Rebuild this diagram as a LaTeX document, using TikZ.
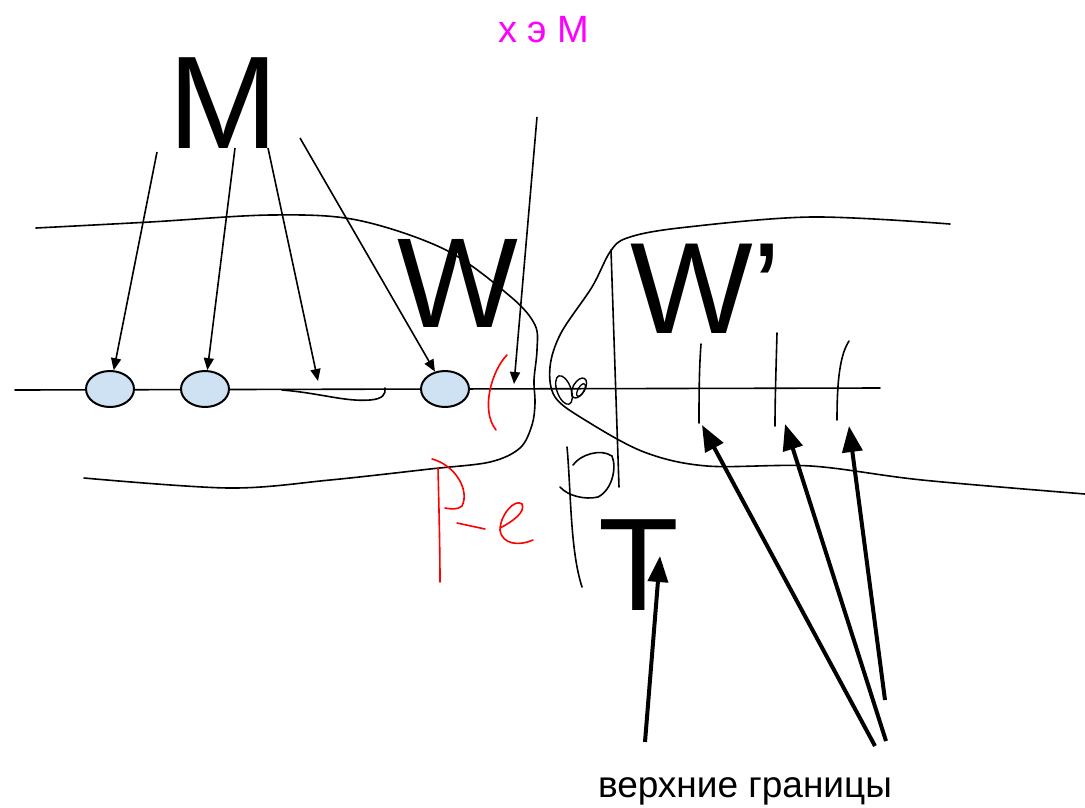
\documentclass[tikz,border=0pt]{standalone}
\usepackage{fontspec}
\setmainfont{Liberation Sans}
\usetikzlibrary{arrows.meta,shapes.geometric}
\definecolor{ellfill}{HTML}{CFE2F3}
\definecolor{mag}{HTML}{FF00FF}
\tikzset{
  thin/.style={line width=1.6pt, line cap=round},
  thinarr/.style={line width=1.6pt, -{Triangle[length=12pt,width=10pt]}},
  thickarr/.style={line width=4pt, -{Triangle[length=26pt,width=20pt]}},
  redstroke/.style={red, line width=1.6pt, line cap=round},
  pt/.style={ellipse, draw, line width=2pt, fill=ellfill, minimum width=48pt, minimum height=36pt, inner sep=0pt},
  big/.style={inner sep=0pt, font=\fontsize{132}{132}\selectfont}
}
\begin{document}
\begin{tikzpicture}[x=1pt,y=-1pt]
\useasboundingbox (0,0) rectangle (1085,807);
% labels
\node[inner sep=0pt, anchor=base, text=mag, font=\fontsize{38}{38}\selectfont] (xem) at (544,42) {x э M};
\node[big, anchor=base] (M) at (223,148) {M};
\node[big, anchor=base, font=\fontsize{128}{128}\selectfont] (W) at (458,327) {W};
\node[big, anchor=base west, font=\fontsize{130}{130}\selectfont] (Wp) at (630,333) {W’};
\node[big, anchor=base] (T) at (639,610) {T};
\node[inner sep=0pt, anchor=base, font=\fontsize{37}{37}\selectfont] (vg) at (745,797) {верхние границы};
% main line
\coordinate (L0) at (15,390);
\coordinate (L1) at (880,388);
\draw[thin] (L0) -- (L1);
% hook on the line
\draw[thin] (282,390) .. controls (320,393) and (345,402) .. (370,400) .. controls (383,399) and (386,394) .. (385,388);
% ellipses
\node[pt] (e1) at (110,389) {};
\node[pt] (e2) at (205,389) {};
\node[pt] (e4) at (445,389) {};
% left region boundary
\draw[thin] plot[smooth, tension=0.55] coordinates {(36,228) (150,222) (271,215) (357,220) (446,250) (511,297) (535,325) (537,350) (534,380) (535,403) (532,425) (520,448) (490,462) (430,469) (330,480) (229,488) (84,478)};
% right region boundary
\draw[thin] plot[smooth, tension=0.55] coordinates {(950,224) (811,217) (679,228) (627,238) (610,252) (592,287) (561,333) (550,367) (555,397) (585,420) (644,452) (707,466) (811,466) (922,480) (1085,494)};
% vertical line near W'
\coordinate (v0) at (611,250);
\coordinate (v1) at (619,487);
\draw[thin] (v0) -- (v1);
% loops
\draw[line width=1.4pt] (564,390) ellipse [x radius=7, y radius=15, rotate=20];
\draw[line width=1.4pt] (579,388) ellipse [x radius=6, y radius=11, rotate=-30];
\draw[line width=1.3pt] (581,390) ellipse [x radius=3, y radius=7, rotate=-30];
% black P-like scribble
\draw[thin] (567,447) .. controls (571,490) and (570,550) .. (582,587);
\draw[thin] (573,465) .. controls (580,455) and (600,448) .. (612,456) .. controls (617,468) and (612,490) .. (598,497) .. controls (585,500) and (568,496) .. (560,487);
% tick marks on the right
\draw[thin] (701,344) .. controls (699,370) and (699,400) .. (699,423);
\draw[thin] (777,333) .. controls (776,370) and (775,400) .. (775,426);
\draw[thin] (849,341) .. controls (840,355) and (837,380) .. (837,420);
% red strokes
\draw[redstroke] (507,355) .. controls (492,370) and (480,410) .. (496,430);
\draw[redstroke] (438,468) .. controls (439,510) and (440,550) .. (440,582);
\draw[redstroke] (432,459) .. controls (455,465) and (470,490) .. (462,506) .. controls (458,510) and (450,509) .. (445,508);
\draw[redstroke] (457,523) -- (485,529);
\draw[redstroke] (500,528) .. controls (512,522) and (526,512) .. (522,504) .. controls (515,498) and (500,515) .. (500,530) .. controls (502,545) and (520,546) .. (533,540);
% thin arrows from M
\coordinate (s1) at (157,152);
\coordinate (s2) at (235,148);
\coordinate (s3) at (268,148);
\coordinate (t3) at (318,381);
\coordinate (s4) at (300,138);
\coordinate (s5) at (537,117);
\coordinate (t5) at (514,384);
\draw[thinarr] (s1) -- (e1);
\draw[thinarr] (s2) -- (e2);
\draw[thinarr] (s3) -- (t3);
\draw[thinarr] (s4) -- (e4);
\draw[thinarr] (s5) -- (t5);
% thick arrows
\coordinate (b0) at (645,742);
\coordinate (h0) at (660,556);
\coordinate (b1) at (875,746);
\coordinate (h1) at (702,425);
\coordinate (b2) at (886,741);
\coordinate (h2) at (785,424);
\coordinate (b3) at (885,700);
\coordinate (h3) at (849,426);
\draw[thickarr] (b0) -- (h0);
\draw[thickarr] (b1) -- (h1);
\draw[thickarr] (b2) -- (h2);
\draw[thickarr] (b3) -- (h3);
\end{tikzpicture}
\end{document}
